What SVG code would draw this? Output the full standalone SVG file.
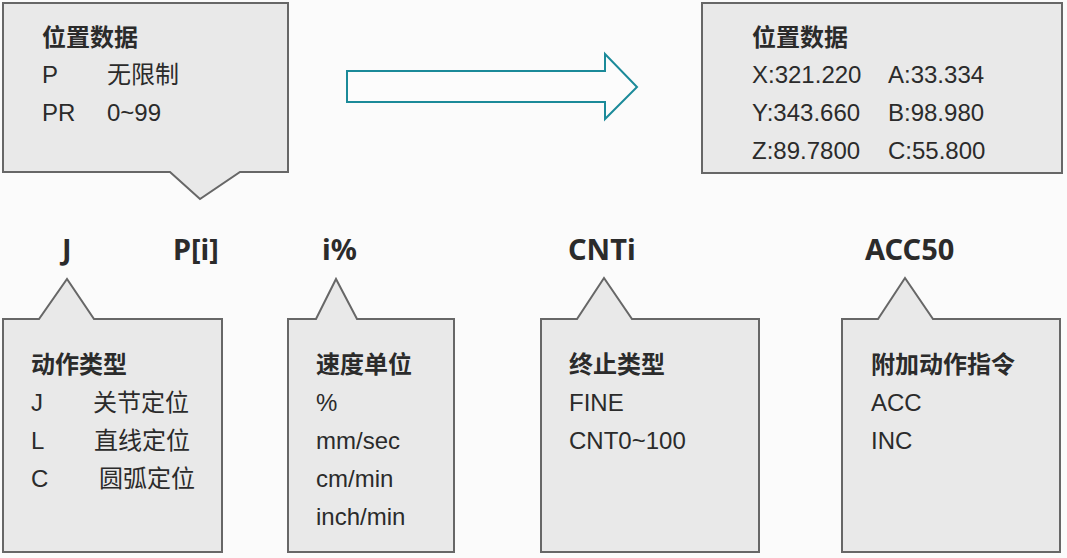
<svg xmlns="http://www.w3.org/2000/svg" width="1067" height="558" viewBox="0 0 1067 558">
<style>
.box{fill:#e9e9e9;stroke:#676767;stroke-width:2}
.t{font-family:"Liberation Sans","Noto Sans CJK SC",sans-serif;font-size:24px;fill:#2b2b2b}
.h{font-family:"Liberation Sans","Noto Sans CJK SC",sans-serif;font-size:24px;font-weight:bold;fill:#2b2b2b}
.lab{font-family:"Noto Sans","Liberation Sans",sans-serif;font-size:29px;font-weight:bold;fill:#2b2b2b}
.arrow{fill:#fcfcfc;stroke:#1b8a99;stroke-width:2}
</style>
<rect width="1067" height="558" fill="#fbfbfb"/>
<g id="pos-data-left">
<path class="box" d="M3,3 H288 V172 H240 L200,199 L170,172 H3 Z"/>
<text class="h" x="42" y="46">位置数据</text>
<text class="t" x="42" y="83">P</text><text class="t" x="107" y="83">无限制</text>
<text class="t" x="42" y="121">PR</text><text class="t" x="107" y="121">0~99</text>
</g>
<g id="pos-data-right">
<rect class="box" x="702" y="3" width="360" height="170"/>
<text class="h" x="752" y="46">位置数据</text>
<text class="t" x="752" y="83">X:321.220</text><text class="t" x="888" y="83">A:33.334</text>
<text class="t" x="752" y="121">Y:343.660</text><text class="t" x="888" y="121">B:98.980</text>
<text class="t" x="752" y="159">Z:89.7800</text><text class="t" x="888" y="159">C:55.800</text>
</g>
<g id="connectors">
<path class="arrow" d="M347,71 H605 V54 L637,87 L605,119 V102 H347 Z"/>
</g>
<g id="instruction">
<text class="lab" x="62" y="260">J</text>
<text class="lab" x="173" y="260">P[i]</text>
<text class="lab" x="322" y="260">i%</text>
<text class="lab" x="568" y="260">CNTi</text>
<text class="lab" x="865" y="260">ACC50</text>
</g>
<g id="motion-type">
<path class="box" d="M3,319 H39 L67,279 L94,319 H222 V552 H3 Z"/>
<text class="h" x="31" y="373">动作类型</text>
<text class="t" x="31" y="411">J</text><text class="t" x="93" y="411">关节定位</text>
<text class="t" x="31" y="449">L</text><text class="t" x="94" y="449">直线定位</text>
<text class="t" x="31" y="487">C</text><text class="t" x="99" y="487">圆弧定位</text>
</g>
<g id="speed-unit">
<path class="box" d="M288,319 H316 L336,279 L357,319 H454 V552 H288 Z"/>
<text class="h" x="316" y="373">速度单位</text>
<text class="t" x="316" y="411">%</text>
<text class="t" x="316" y="449">mm/sec</text>
<text class="t" x="316" y="487">cm/min</text>
<text class="t" x="316" y="525">inch/min</text>
</g>
<g id="termination-type">
<path class="box" d="M541,319 H577 L604,278 L632,319 H759 V552 H541 Z"/>
<text class="h" x="569" y="373">终止类型</text>
<text class="t" x="569" y="411">FINE</text>
<text class="t" x="569" y="449">CNT0~100</text>
</g>
<g id="additional-instruction">
<path class="box" d="M842,319 H878 L905,278 L933,319 H1060 V552 H842 Z"/>
<text class="h" x="871" y="373">附加动作指令</text>
<text class="t" x="871" y="411">ACC</text>
<text class="t" x="871" y="449">INC</text>
</g>
</svg>
